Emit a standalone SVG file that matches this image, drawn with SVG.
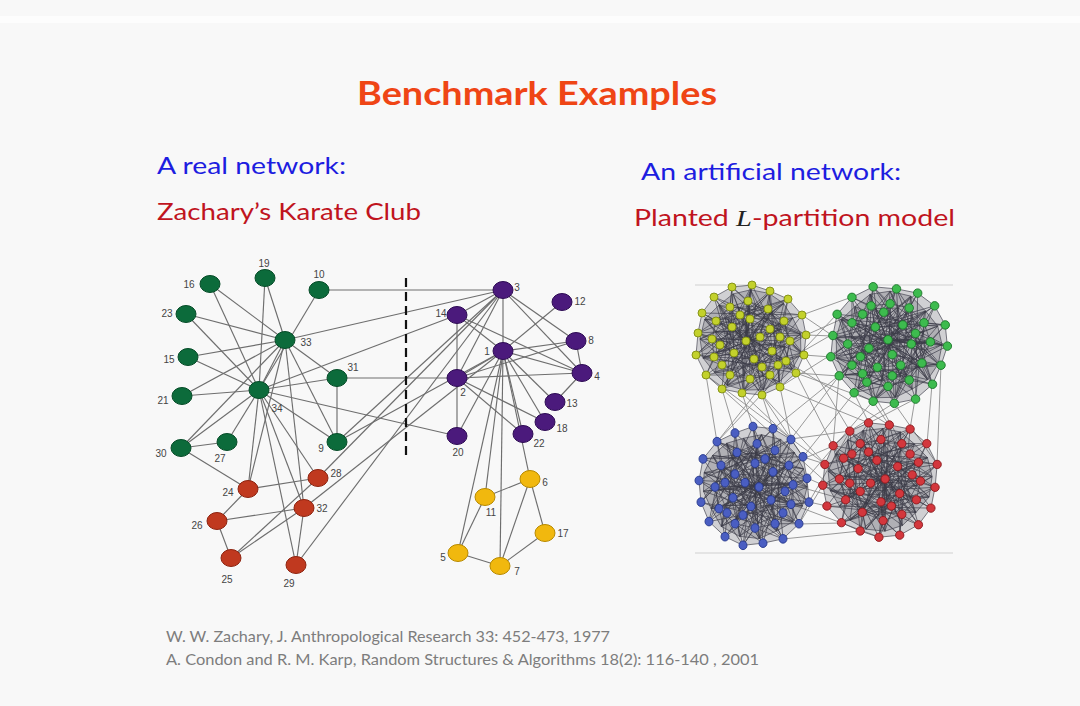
<svg xmlns="http://www.w3.org/2000/svg" xmlns:xlink="http://www.w3.org/1999/xlink" width="1080" height="706" viewBox="0 0 1080 706">
<style>
.e{stroke:#6e6e6e;stroke-width:1.15;fill:none}
.nl{font-family:"Liberation Sans",Arial,sans-serif;font-size:10px;fill:#444;text-anchor:middle}
.g ellipse{fill:#0c6b3b;stroke:#074d29;stroke-width:1}
.r ellipse{fill:#c0391f;stroke:#8e2410;stroke-width:1}
.p ellipse{fill:#4b1a7c;stroke:#2f0d55;stroke-width:1}
.y ellipse{fill:#f1b80e;stroke:#b88a00;stroke-width:1}
.sub{font-family:Lato,"Open Sans",sans-serif;font-size:24px}
.ref{font-family:Lato,"Open Sans",sans-serif;font-size:15px;fill:#7d7d7d}
.ie{stroke:#8f8f8f;stroke-width:0.9;fill:none}
</style>
<defs>
<g id="cl-edges" fill="none" stroke="#3c3c48" stroke-width="0.75" stroke-opacity="0.85">
<polygon points="-52,-8 -48,-28 -36,-44 -18,-54 2,-56 20,-50 38,-42 52,-26 56,-6 54,14 46,32 30,46 12,54 -8,52 -28,48 -44,34 -54,14" fill="#34343f" fill-opacity="0.2" stroke="none"/>
<path d="M-52,-8 L-48,-28 L-36,-44 L-18,-54 L2,-56 L20,-50 L38,-42 L52,-26 L56,-6 L54,14 L46,32 L30,46 L12,54 L-8,52 L-28,48 L-44,34 L-54,14 Z
M-34,-20 L-20,-34 L-2,-40 L18,-32 L34,-20 L40,0 L36,20 L20,34 L0,38 L-20,34 L-36,16 L-38,-2 Z
M-18,-14 L0,-22 L20,-12 L22,10 L4,18 L-16,12 Z
M-52,-8 L-34,-20 M-52,-8 L-38,-2 M-48,-28 L-34,-20 M-36,-44 L-20,-34 M-18,-54 L-20,-34 M-18,-54 L-2,-40 M2,-56 L-2,-40 M20,-50 L18,-32 M38,-42 L18,-32 M38,-42 L34,-20 M52,-26 L34,-20 M56,-6 L40,0 M54,14 L40,0 M54,14 L36,20 M46,32 L36,20 M30,46 L20,34 M12,54 L0,38 M-8,52 L0,38 M-28,48 L-20,34 M-44,34 L-36,16 M-54,14 L-36,16 M-54,14 L-38,-2
M-34,-20 L-18,-14 M-20,-34 L-18,-14 M-2,-40 L0,-22 M18,-32 L0,-22 M34,-20 L20,-12 M40,0 L22,10 M36,20 L22,10 M20,34 L4,18 M0,38 L4,18 M-20,34 L-16,12 M-36,16 L-16,12 M-38,-2 L-16,12
M-4,0 L-18,-14 M-4,0 L0,-22 M-4,0 L10,-4 M10,-4 L20,-12 M10,-4 L22,10 M-4,0 L4,18 M-4,0 L-16,12
M-52,-8 L38,-42 M-48,-28 L52,-26 M-36,-44 L56,-6 M-18,-54 L54,14 M2,-56 L46,32 M20,-50 L30,46 M38,-42 L12,54 M52,-26 L-8,52 M56,-6 L-28,48 M54,14 L-44,34 M46,32 L-54,14 M30,46 L-34,-20 M12,54 L-20,-34 M-8,52 L-2,-40 M-28,48 L18,-32 M-44,34 L34,-20 M-54,14 L40,0 M-34,-20 L36,20 M-20,-34 L20,34 M-2,-40 L0,38 M18,-32 L-20,34 M34,-20 L-36,16 M40,0 L-38,-2 M36,20 L-18,-14 M20,34 L0,-22 M0,38 L20,-12 M-20,34 L22,10 M-36,16 L4,18 M-38,-2 L-16,12 M-18,-14 L-4,0 M0,-22 L10,-4 M20,-12 L-52,-8 M22,10 L-48,-28 M4,18 L-36,-44 M-16,12 L-18,-54 M-4,0 L2,-56 M10,-4 L20,-50
M-52,-8 L30,46 M-48,-28 L12,54 M-36,-44 L-8,52 M-18,-54 L-28,48 M2,-56 L-44,34 M20,-50 L-54,14 M38,-42 L-34,-20 M52,-26 L-20,-34 M56,-6 L-2,-40 M54,14 L18,-32 M46,32 L34,-20 M30,46 L40,0 M12,54 L36,20 M-8,52 L20,34 M-28,48 L0,38 M-44,34 L-20,34
M-52,-8 L36,20 M-36,-44 L20,34 M2,-56 L-20,34 M38,-42 L-36,16 M56,-6 L-38,-2 M46,32 L-34,-20 M12,54 L-2,-40 M-28,48 L34,-20 M-54,14 L18,-32"/>
</g>
<g id="cl-nodes" stroke-width="0.9">
<circle cx="-52" cy="-8" r="4"/><circle cx="-48" cy="-28" r="4"/><circle cx="-36" cy="-44" r="4"/><circle cx="-18" cy="-54" r="4"/><circle cx="2" cy="-56" r="4"/><circle cx="20" cy="-50" r="4"/><circle cx="38" cy="-42" r="4"/><circle cx="52" cy="-26" r="4"/><circle cx="56" cy="-6" r="4"/><circle cx="54" cy="14" r="4"/><circle cx="46" cy="32" r="4"/><circle cx="30" cy="46" r="4"/><circle cx="12" cy="54" r="4"/><circle cx="-8" cy="52" r="4"/><circle cx="-28" cy="48" r="4"/><circle cx="-44" cy="34" r="4"/><circle cx="-54" cy="14" r="4"/>
<circle cx="-34" cy="-20" r="4"/><circle cx="-20" cy="-34" r="4"/><circle cx="-2" cy="-40" r="4"/><circle cx="18" cy="-32" r="4"/><circle cx="34" cy="-20" r="4"/><circle cx="40" cy="0" r="4"/><circle cx="36" cy="20" r="4"/><circle cx="20" cy="34" r="4"/><circle cx="0" cy="38" r="4"/><circle cx="-20" cy="34" r="4"/><circle cx="-36" cy="16" r="4"/><circle cx="-38" cy="-2" r="4"/>
<circle cx="-18" cy="-14" r="4"/><circle cx="0" cy="-22" r="4"/><circle cx="20" cy="-12" r="4"/><circle cx="22" cy="10" r="4"/><circle cx="4" cy="18" r="4"/><circle cx="-16" cy="12" r="4"/><circle cx="-4" cy="0" r="4"/><circle cx="10" cy="-4" r="4"/>
<circle cx="-10" cy="-26" r="4"/><circle cx="30" cy="-4" r="4"/><circle cx="-28" cy="24" r="4"/><circle cx="12" cy="26" r="4"/><circle cx="-30" cy="4" r="4"/><circle cx="28" cy="24" r="4"/>
</g>
</defs>

<rect x="0" y="0" width="1080" height="706" fill="#f8f8f8"/>
<rect x="0" y="16" width="1080" height="7" fill="#fdfdfd"/>

<text x="537" y="105" text-anchor="middle" font-family="Lato,'Open Sans',sans-serif" font-size="33" font-weight="bold" fill="#ef4515" textLength="360" lengthAdjust="spacingAndGlyphs">Benchmark Examples</text>

<text class="sub" x="157" y="174" fill="#1d1de0" textLength="189" lengthAdjust="spacingAndGlyphs">A real network:</text>
<text class="sub" x="157" y="220" fill="#c0141e" textLength="264" lengthAdjust="spacingAndGlyphs">Zachary’s Karate Club</text>
<text class="sub" x="641" y="180" fill="#1d1de0" textLength="260" lengthAdjust="spacingAndGlyphs">An artificial network:</text>
<text class="sub" x="634" y="226" fill="#c0141e" textLength="321" lengthAdjust="spacingAndGlyphs">Planted <tspan font-family="'Liberation Serif','DejaVu Serif',serif" font-style="italic" fill="#222">L</tspan>-partition model</text>

<g id="connectors">
<line class="e" x1="503" y1="351" x2="457" y2="378"/>
<line class="e" x1="503" y1="351" x2="503" y2="290"/>
<line class="e" x1="503" y1="351" x2="582" y2="373"/>
<line class="e" x1="503" y1="351" x2="458" y2="553"/>
<line class="e" x1="503" y1="351" x2="530" y2="479"/>
<line class="e" x1="503" y1="351" x2="500" y2="566"/>
<line class="e" x1="503" y1="351" x2="576" y2="341"/>
<line class="e" x1="503" y1="351" x2="337" y2="442"/>
<line class="e" x1="503" y1="351" x2="485" y2="497"/>
<line class="e" x1="503" y1="351" x2="562" y2="302"/>
<line class="e" x1="503" y1="351" x2="555" y2="402"/>
<line class="e" x1="503" y1="351" x2="457" y2="315"/>
<line class="e" x1="503" y1="351" x2="545" y2="422"/>
<line class="e" x1="503" y1="351" x2="457" y2="436"/>
<line class="e" x1="503" y1="351" x2="523" y2="434"/>
<line class="e" x1="503" y1="351" x2="304" y2="508"/>
<line class="e" x1="457" y1="378" x2="503" y2="290"/>
<line class="e" x1="457" y1="378" x2="582" y2="373"/>
<line class="e" x1="457" y1="378" x2="576" y2="341"/>
<line class="e" x1="457" y1="378" x2="457" y2="315"/>
<line class="e" x1="457" y1="378" x2="545" y2="422"/>
<line class="e" x1="457" y1="378" x2="457" y2="436"/>
<line class="e" x1="457" y1="378" x2="523" y2="434"/>
<line class="e" x1="457" y1="378" x2="337" y2="378"/>
<line class="e" x1="503" y1="290" x2="582" y2="373"/>
<line class="e" x1="503" y1="290" x2="576" y2="341"/>
<line class="e" x1="503" y1="290" x2="337" y2="442"/>
<line class="e" x1="503" y1="290" x2="319" y2="290"/>
<line class="e" x1="503" y1="290" x2="457" y2="315"/>
<line class="e" x1="503" y1="290" x2="318" y2="478"/>
<line class="e" x1="503" y1="290" x2="296" y2="565"/>
<line class="e" x1="503" y1="290" x2="285" y2="340"/>
<line class="e" x1="582" y1="373" x2="576" y2="341"/>
<line class="e" x1="582" y1="373" x2="555" y2="402"/>
<line class="e" x1="582" y1="373" x2="457" y2="315"/>
<line class="e" x1="458" y1="553" x2="500" y2="566"/>
<line class="e" x1="458" y1="553" x2="485" y2="497"/>
<line class="e" x1="530" y1="479" x2="500" y2="566"/>
<line class="e" x1="530" y1="479" x2="485" y2="497"/>
<line class="e" x1="530" y1="479" x2="545" y2="533"/>
<line class="e" x1="500" y1="566" x2="545" y2="533"/>
<line class="e" x1="337" y1="442" x2="337" y2="378"/>
<line class="e" x1="337" y1="442" x2="285" y2="340"/>
<line class="e" x1="337" y1="442" x2="259" y2="390"/>
<line class="e" x1="319" y1="290" x2="259" y2="390"/>
<line class="e" x1="457" y1="315" x2="259" y2="390"/>
<line class="e" x1="188" y1="357" x2="285" y2="340"/>
<line class="e" x1="188" y1="357" x2="259" y2="390"/>
<line class="e" x1="210" y1="284" x2="285" y2="340"/>
<line class="e" x1="210" y1="284" x2="259" y2="390"/>
<line class="e" x1="265" y1="278" x2="285" y2="340"/>
<line class="e" x1="265" y1="278" x2="259" y2="390"/>
<line class="e" x1="457" y1="436" x2="259" y2="390"/>
<line class="e" x1="182" y1="396" x2="285" y2="340"/>
<line class="e" x1="182" y1="396" x2="259" y2="390"/>
<line class="e" x1="186" y1="314" x2="285" y2="340"/>
<line class="e" x1="186" y1="314" x2="259" y2="390"/>
<line class="e" x1="248" y1="489" x2="217" y2="521"/>
<line class="e" x1="248" y1="489" x2="318" y2="478"/>
<line class="e" x1="248" y1="489" x2="181" y2="448"/>
<line class="e" x1="248" y1="489" x2="285" y2="340"/>
<line class="e" x1="248" y1="489" x2="259" y2="390"/>
<line class="e" x1="231" y1="558" x2="217" y2="521"/>
<line class="e" x1="231" y1="558" x2="318" y2="478"/>
<line class="e" x1="231" y1="558" x2="304" y2="508"/>
<line class="e" x1="217" y1="521" x2="304" y2="508"/>
<line class="e" x1="227" y1="442" x2="181" y2="448"/>
<line class="e" x1="227" y1="442" x2="259" y2="390"/>
<line class="e" x1="318" y1="478" x2="259" y2="390"/>
<line class="e" x1="296" y1="565" x2="304" y2="508"/>
<line class="e" x1="296" y1="565" x2="259" y2="390"/>
<line class="e" x1="181" y1="448" x2="285" y2="340"/>
<line class="e" x1="181" y1="448" x2="259" y2="390"/>
<line class="e" x1="337" y1="378" x2="285" y2="340"/>
<line class="e" x1="337" y1="378" x2="259" y2="390"/>
<line class="e" x1="304" y1="508" x2="285" y2="340"/>
<line class="e" x1="304" y1="508" x2="259" y2="390"/>
<line class="e" x1="285" y1="340" x2="259" y2="390"/>
</g>

<line id="split" x1="406" y1="278" x2="406" y2="455" stroke="#111" stroke-width="2.2" stroke-dasharray="9,5"/>

<g id="n1" class="p"><ellipse cx="503" cy="351" rx="10" ry="8.5"/><text class="nl" x="487" y="355">1</text></g>
<g id="n2" class="p"><ellipse cx="457" cy="378" rx="10" ry="8.5"/><text class="nl" x="463" y="396">2</text></g>
<g id="n3" class="p"><ellipse cx="503" cy="290" rx="10" ry="8.5"/><text class="nl" x="517" y="291">3</text></g>
<g id="n4" class="p"><ellipse cx="582" cy="373" rx="10" ry="8.5"/><text class="nl" x="597" y="380">4</text></g>
<g id="n8" class="p"><ellipse cx="576" cy="341" rx="10" ry="8.5"/><text class="nl" x="591" y="344">8</text></g>
<g id="n12" class="p"><ellipse cx="562" cy="302" rx="10" ry="8.5"/><text class="nl" x="580" y="305">12</text></g>
<g id="n13" class="p"><ellipse cx="555" cy="402" rx="10" ry="8.5"/><text class="nl" x="572" y="407">13</text></g>
<g id="n14" class="p"><ellipse cx="457" cy="315" rx="10" ry="8.5"/><text class="nl" x="441" y="317">14</text></g>
<g id="n18" class="p"><ellipse cx="545" cy="422" rx="10" ry="8.5"/><text class="nl" x="562" y="432">18</text></g>
<g id="n20" class="p"><ellipse cx="457" cy="436" rx="10" ry="8.5"/><text class="nl" x="458" y="456">20</text></g>
<g id="n22" class="p"><ellipse cx="523" cy="434" rx="10" ry="8.5"/><text class="nl" x="539" y="447">22</text></g>

<g id="n5" class="y"><ellipse cx="458" cy="553" rx="10" ry="8.5"/><text class="nl" x="443" y="561">5</text></g>
<g id="n6" class="y"><ellipse cx="530" cy="479" rx="10" ry="8.5"/><text class="nl" x="545" y="486">6</text></g>
<g id="n7" class="y"><ellipse cx="500" cy="566" rx="10" ry="8.5"/><text class="nl" x="517" y="575">7</text></g>
<g id="n11" class="y"><ellipse cx="485" cy="497" rx="10" ry="8.5"/><text class="nl" x="491" y="516">11</text></g>
<g id="n17" class="y"><ellipse cx="545" cy="533" rx="10" ry="8.5"/><text class="nl" x="563" y="537">17</text></g>

<g id="n9" class="g"><ellipse cx="337" cy="442" rx="10" ry="8.5"/><text class="nl" x="321" y="452">9</text></g>
<g id="n10" class="g"><ellipse cx="319" cy="290" rx="10" ry="8.5"/><text class="nl" x="319" y="278">10</text></g>
<g id="n15" class="g"><ellipse cx="188" cy="357" rx="10" ry="8.5"/><text class="nl" x="169" y="363">15</text></g>
<g id="n16" class="g"><ellipse cx="210" cy="284" rx="10" ry="8.5"/><text class="nl" x="189" y="288">16</text></g>
<g id="n19" class="g"><ellipse cx="265" cy="278" rx="10" ry="8.5"/><text class="nl" x="264" y="267">19</text></g>
<g id="n21" class="g"><ellipse cx="182" cy="396" rx="10" ry="8.5"/><text class="nl" x="163" y="404">21</text></g>
<g id="n23" class="g"><ellipse cx="186" cy="314" rx="10" ry="8.5"/><text class="nl" x="167" y="317">23</text></g>
<g id="n27" class="g"><ellipse cx="227" cy="442" rx="10" ry="8.5"/><text class="nl" x="220" y="462">27</text></g>
<g id="n30" class="g"><ellipse cx="181" cy="448" rx="10" ry="8.5"/><text class="nl" x="161" y="457">30</text></g>
<g id="n31" class="g"><ellipse cx="337" cy="378" rx="10" ry="8.5"/><text class="nl" x="353" y="371">31</text></g>
<g id="n33" class="g"><ellipse cx="285" cy="340" rx="10" ry="8.5"/><text class="nl" x="306" y="346">33</text></g>
<g id="n34" class="g"><ellipse cx="259" cy="390" rx="10" ry="8.5"/><text class="nl" x="277" y="412">34</text></g>

<g id="n24" class="r"><ellipse cx="248" cy="489" rx="10" ry="8.5"/><text class="nl" x="228" y="496">24</text></g>
<g id="n25" class="r"><ellipse cx="231" cy="558" rx="10" ry="8.5"/><text class="nl" x="227" y="583">25</text></g>
<g id="n26" class="r"><ellipse cx="217" cy="521" rx="10" ry="8.5"/><text class="nl" x="197" y="529">26</text></g>
<g id="n28" class="r"><ellipse cx="318" cy="478" rx="10" ry="8.5"/><text class="nl" x="336" y="477">28</text></g>
<g id="n29" class="r"><ellipse cx="296" cy="565" rx="10" ry="8.5"/><text class="nl" x="289" y="587">29</text></g>
<g id="n32" class="r"><ellipse cx="304" cy="508" rx="10" ry="8.5"/><text class="nl" x="322" y="512">32</text></g>

<g id="artificial">
<line x1="695" y1="285" x2="953" y2="285" stroke="#cfcfcf" stroke-width="1.2"/>
<line x1="695" y1="553" x2="953" y2="553" stroke="#cfcfcf" stroke-width="1.2"/>
<g id="inter-edges">
<path class="ie" d="M806,335 L833,336 M804,355 L831,357 M802,315 L852,297 M796,373 L839,376 M786,361 L852,323 M780,387 L848,344 M806,335 L871,306
M742,393 L753,427 M722,389 L735,433 M706,375 L717,442 M762,395 L773,429 M780,387 L791,439 M770,375 L717,442 M742,393 L791,439
M796,373 L833,446 M804,355 L850,431 M780,387 L869,423 M762,395 L825,464 M786,361 L889,425 M722,389 L846,500 M706,375 L825,464
M854,393 L869,423 M873,401 L889,425 M915,399 L910,429 M932,384 L927,444 M894,403 L850,431 M839,376 L833,446 M941,365 L937,464 M867,382 L902,444
M839,376 L791,439 M854,393 L803,457 M852,365 L773,429 M873,401 L807,478 M837,314 L717,442
M807,478 L823,485 M809,502 L827,506 M799,524 L841,523 M783,539 L860,531 M803,457 L825,464 M791,439 L850,431 M789,465 L833,446 M793,485 L846,500 M791,504 L879,537
M796,373 L873,401 M802,315 L833,336 M762,395 L803,457 M915,399 L869,423 M894,403 L937,464 M809,502 L850,431 M799,524 L823,485"/>
</g>
<use xlink:href="#cl-edges" href="#cl-edges" transform="translate(750,341)"/>
<use xlink:href="#cl-edges" href="#cl-edges" transform="translate(750,341) rotate(40) scale(0.9)"/>
<use xlink:href="#cl-edges" href="#cl-edges" transform="translate(888,344) rotate(90) scale(1.06)"/>
<use xlink:href="#cl-edges" href="#cl-edges" transform="translate(888,344) rotate(130) scale(0.95)"/>
<use xlink:href="#cl-edges" href="#cl-edges" transform="translate(755,487) scale(-1,1.08)"/>
<use xlink:href="#cl-edges" href="#cl-edges" transform="translate(755,487) rotate(-35) scale(0.93)"/>
<use xlink:href="#cl-edges" href="#cl-edges" transform="translate(881,479) rotate(180) scale(1.04)"/>
<use xlink:href="#cl-edges" href="#cl-edges" transform="translate(881,479) rotate(215) scale(0.92)"/>
<use xlink:href="#cl-nodes" href="#cl-nodes" fill="#c3d12c" stroke="#7f8c12" transform="translate(750,341)"/>
<use xlink:href="#cl-nodes" href="#cl-nodes" fill="#3dbb4e" stroke="#1f7a2e" transform="translate(888,344) rotate(90) scale(1.06)"/>
<use xlink:href="#cl-nodes" href="#cl-nodes" fill="#4a5ec2" stroke="#283a8c" transform="translate(755,487) scale(-1,1.08)"/>
<use xlink:href="#cl-nodes" href="#cl-nodes" fill="#d3373d" stroke="#8c1b1f" transform="translate(881,479) rotate(180) scale(1.04)"/>
</g>

<text class="ref" x="166" y="642" textLength="444" lengthAdjust="spacingAndGlyphs">W. W. Zachary, J. Anthropological Research 33: 452-473, 1977</text>
<text class="ref" x="166" y="665" textLength="593" lengthAdjust="spacingAndGlyphs">A. Condon and R. M. Karp, Random Structures &amp; Algorithms 18(2): 116-140 , 2001</text>
</svg>
